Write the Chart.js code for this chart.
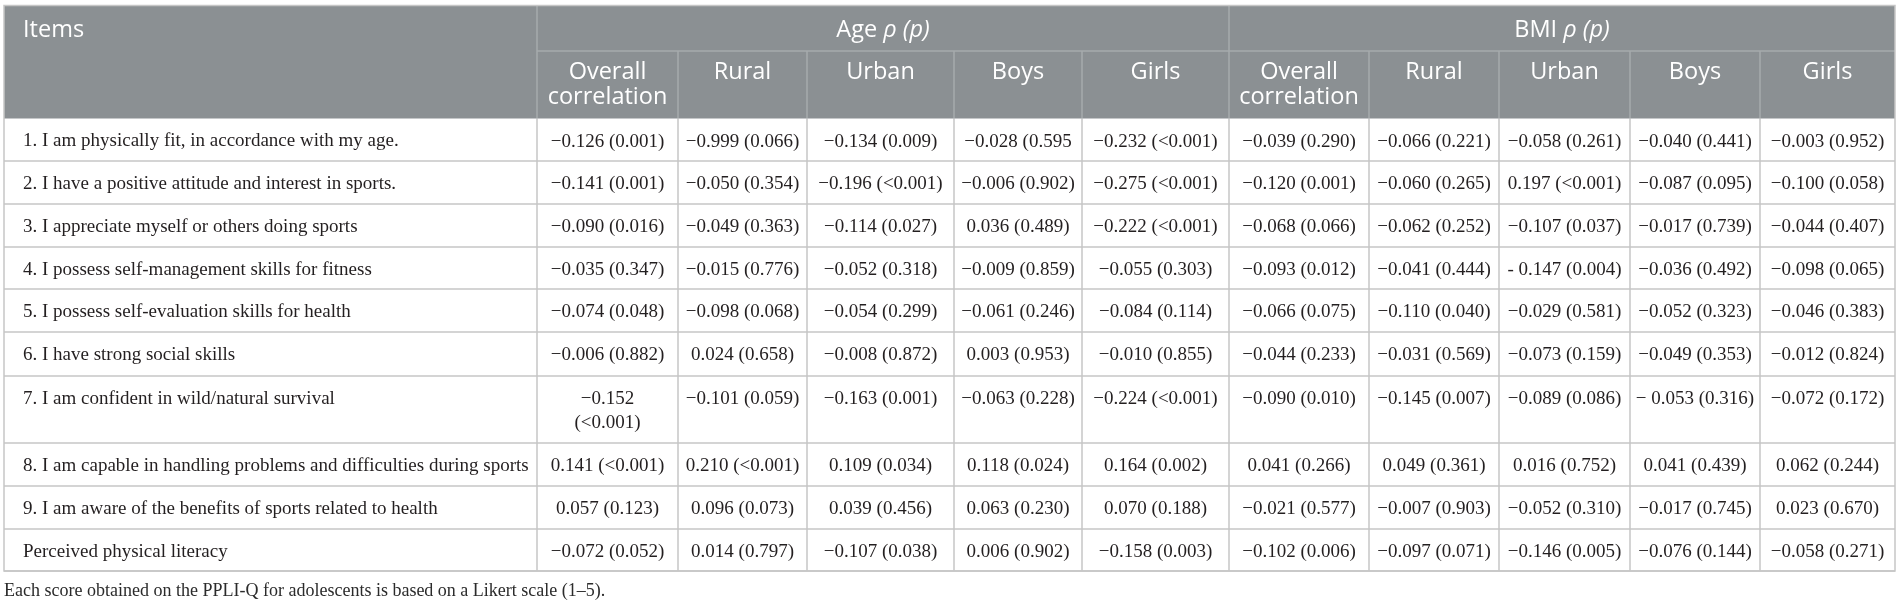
<!DOCTYPE html>
<html>
<head>
<meta charset="utf-8">
<script src="https://cdn.jsdelivr.net/npm/chart.js@4.4.1/dist/chart.umd.min.js"></script>
<style>
  html, body { margin: 0; padding: 0; background: #fff; }
  #wrap { width: 1901px; height: 603px; }
</style>
</head>
<body>
<div id="wrap"><canvas id="myChart"></canvas></div>
<script>
const items = [
  "1. I am physically fit, in accordance with my age.",
  "2. I have a positive attitude and interest in sports.",
  "3. I appreciate myself or others doing sports",
  "4. I possess self-management skills for fitness",
  "5. I possess self-evaluation skills for health",
  "6. I have strong social skills",
  "7. I am confident in wild/natural survival",
  "8. I am capable in handling problems and difficulties during sports",
  "9. I am aware of the benefits of sports related to health",
  "Perceived physical literacy",
];

const groups = ["Age", "BMI"];
const subgroups = ["Overall correlation", "Rural", "Urban", "Boys", "Girls"];

// rho (p) per column
const ageOverall = ["−0.126 (0.001)", "−0.141 (0.001)", "−0.090 (0.016)", "−0.035 (0.347)", "−0.074 (0.048)", "−0.006 (0.882)", "−0.152\n(<0.001)", "0.141 (<0.001)", "0.057 (0.123)", "−0.072 (0.052)"];
const ageRural = ["−0.999 (0.066)", "−0.050 (0.354)", "−0.049 (0.363)", "−0.015 (0.776)", "−0.098 (0.068)", "0.024 (0.658)", "−0.101 (0.059)", "0.210 (<0.001)", "0.096 (0.073)", "0.014 (0.797)"];
const ageUrban = ["−0.134 (0.009)", "−0.196 (<0.001)", "−0.114 (0.027)", "−0.052 (0.318)", "−0.054 (0.299)", "−0.008 (0.872)", "−0.163 (0.001)", "0.109 (0.034)", "0.039 (0.456)", "−0.107 (0.038)"];
const ageBoys = ["−0.028 (0.595", "−0.006 (0.902)", "0.036 (0.489)", "−0.009 (0.859)", "−0.061 (0.246)", "0.003 (0.953)", "−0.063 (0.228)", "0.118 (0.024)", "0.063 (0.230)", "0.006 (0.902)"];
const ageGirls = ["−0.232 (<0.001)", "−0.275 (<0.001)", "−0.222 (<0.001)", "−0.055 (0.303)", "−0.084 (0.114)", "−0.010 (0.855)", "−0.224 (<0.001)", "0.164 (0.002)", "0.070 (0.188)", "−0.158 (0.003)"];
const bmiOverall = ["−0.039 (0.290)", "−0.120 (0.001)", "−0.068 (0.066)", "−0.093 (0.012)", "−0.066 (0.075)", "−0.044 (0.233)", "−0.090 (0.010)", "0.041 (0.266)", "−0.021 (0.577)", "−0.102 (0.006)"];
const bmiRural = ["−0.066 (0.221)", "−0.060 (0.265)", "−0.062 (0.252)", "−0.041 (0.444)", "−0.110 (0.040)", "−0.031 (0.569)", "−0.145 (0.007)", "0.049 (0.361)", "−0.007 (0.903)", "−0.097 (0.071)"];
const bmiUrban = ["−0.058 (0.261)", "0.197 (<0.001)", "−0.107 (0.037)", "- 0.147 (0.004)", "−0.029 (0.581)", "−0.073 (0.159)", "−0.089 (0.086)", "0.016 (0.752)", "−0.052 (0.310)", "−0.146 (0.005)"];
const bmiBoys = ["−0.040 (0.441)", "−0.087 (0.095)", "−0.017 (0.739)", "−0.036 (0.492)", "−0.052 (0.323)", "−0.049 (0.353)", "− 0.053 (0.316)", "0.041 (0.439)", "−0.017 (0.745)", "−0.076 (0.144)"];
const bmiGirls = ["−0.003 (0.952)", "−0.100 (0.058)", "−0.044 (0.407)", "−0.098 (0.065)", "−0.046 (0.383)", "−0.012 (0.824)", "−0.072 (0.172)", "0.062 (0.244)", "0.023 (0.670)", "−0.058 (0.271)"];

const footnote = "Each score obtained on the PPLI-Q for adolescents is based on a Likert scale (1–5).";

const columns = [ageOverall, ageRural, ageUrban, ageBoys, ageGirls, bmiOverall, bmiRural, bmiUrban, bmiBoys, bmiGirls];

// layout (scale units = px of the 1901x603 page)
const tableLeft = 4;
const tableTop = 5.5;
const colWidths = [533, 141, 129, 147, 128, 147, 140, 130, 131, 130, 135];
const headHeights = [45.5, 67.5];
const rowHeights = [42.5, 43, 43, 42, 43, 44, 67, 43, 43, 42];

const headFill = "#8b9093";
const headLine = "#a6aaad";
const bodyLine = "#c6c6c6";
const bodyText = "#231f20";
const headFont = "'Open Sans', sans-serif";
const bodyFont = "'Liberation Serif', 'DejaVu Serif', serif";

function edges(start, sizes) {
  const out = [start];
  sizes.forEach(s => out.push(out[out.length - 1] + s));
  return out;
}

function wrap(ctx, text, maxW) {
  const out = [];
  text.split("\n").forEach(part => {
    let line = "";
    part.split(" ").forEach(w => {
      const t = line ? line + " " + w : w;
      if (line && ctx.measureText(t).width > maxW) {
        out.push(line);
        line = w;
      } else {
        line = t;
      }
    });
    out.push(line);
  });
  return out;
}

const tablePlugin = {
  id: "table",
  afterDraw(chart) {
    const ctx = chart.ctx;
    const xs = chart.scales.x;
    const ys = chart.scales.y;
    const px = v => xs.getPixelForValue(v);
    const py = v => ys.getPixelForValue(v);

    const cx = edges(tableLeft, colWidths);
    const hy = edges(tableTop, headHeights);
    const ry = edges(hy[2], rowHeights);
    const right = cx[cx.length - 1];
    const bottom = ry[ry.length - 1];

    ctx.save();

    // header background
    ctx.fillStyle = headFill;
    ctx.fillRect(px(tableLeft), py(tableTop), px(right) - px(tableLeft), py(hy[2]) - py(tableTop));

    // header rules
    ctx.strokeStyle = headLine;
    ctx.lineWidth = 1.5;
    ctx.beginPath();
    ctx.moveTo(px(cx[1]), py(hy[1]));
    ctx.lineTo(px(right), py(hy[1]));
    for (let i = 1; i < cx.length - 1; i++) {
      const top = (i === 1 || i === 6) ? tableTop : hy[1];
      ctx.moveTo(px(cx[i]), py(top));
      ctx.lineTo(px(cx[i]), py(hy[2]));
    }
    ctx.stroke();

    // body rules
    ctx.strokeStyle = bodyLine;
    ctx.beginPath();
    ry.forEach((y, i) => {
      if (i === 0) return;
      ctx.moveTo(px(tableLeft), py(y));
      ctx.lineTo(px(right), py(y));
    });
    for (let i = 1; i < cx.length - 1; i++) {
      ctx.moveTo(px(cx[i]), py(hy[2]));
      ctx.lineTo(px(cx[i]), py(bottom));
    }
    ctx.stroke();

    // outer border
    ctx.strokeRect(px(tableLeft), py(tableTop), px(right) - px(tableLeft), py(bottom) - py(tableTop));

    // header text
    ctx.fillStyle = "#ffffff";
    ctx.textBaseline = "middle";
    ctx.font = "23.5px " + headFont;
    ctx.textAlign = "left";
    ctx.fillText("Items", px(tableLeft + 19), py(tableTop + 24.5));

    groups.forEach((g, gi) => {
      const x0 = cx[1 + gi * 5];
      const x1 = cx[6 + gi * 5];
      const a = g + " ";
      const b = "ρ (p)";
      ctx.font = "23.5px " + headFont;
      const wa = ctx.measureText(a).width;
      ctx.font = "italic 23.5px " + headFont;
      const wb = ctx.measureText(b).width;
      const start = (px(x0) + px(x1)) / 2 - (wa + wb) / 2;
      ctx.textAlign = "left";
      ctx.font = "23.5px " + headFont;
      ctx.fillText(a, start, py(tableTop + 24.5));
      ctx.font = "italic 23.5px " + headFont;
      ctx.fillText(b, start + wa, py(tableTop + 24.5));

      subgroups.forEach((s, si) => {
        const c = 1 + gi * 5 + si;
        ctx.font = "23.5px " + headFont;
        ctx.textAlign = "center";
        const lines = wrap(ctx, s, colWidths[c] - 16);
        lines.forEach((ln, li) => {
          ctx.fillText(ln, (px(cx[c]) + px(cx[c + 1])) / 2, py(hy[1] + 21 + li * 25));
        });
      });
    });

    // body text
    ctx.fillStyle = bodyText;
    ctx.font = "19px " + bodyFont;
    items.forEach((label, r) => {
      const top = ry[r];
      ctx.textAlign = "left";
      ctx.fillText(label, px(tableLeft + 19), py(top + 23));
      columns.forEach((col, ci) => {
        const c = ci + 1;
        ctx.textAlign = "center";
        const lines = wrap(ctx, col[r], colWidths[c] - 8);
        lines.forEach((ln, li) => {
          ctx.fillText(ln, (px(cx[c]) + px(cx[c + 1])) / 2, py(top + 23.5 + li * 24));
        });
      });
    });

    // footnote
    ctx.textAlign = "left";
    ctx.fillStyle = "#2b2b2b";
    ctx.font = "18px " + bodyFont;
    ctx.fillText(footnote, px(tableLeft), py(bottom + 20));

    ctx.restore();
  },
};

const config = {
  type: "scatter",
  data: { datasets: [{ data: [] }] },
  options: {
    responsive: true,
    maintainAspectRatio: false,
    animation: false,
    events: [],
    layout: { padding: 0 },
    scales: {
      x: { type: "linear", min: 0, max: 1901, display: false },
      y: { type: "linear", min: 0, max: 603, reverse: true, display: false },
    },
    plugins: {
      legend: { display: false },
      tooltip: { enabled: false },
    },
  },
  plugins: [tablePlugin],
};

const myChart = new Chart(document.getElementById("myChart"), config);
</script>
</body>
</html>
